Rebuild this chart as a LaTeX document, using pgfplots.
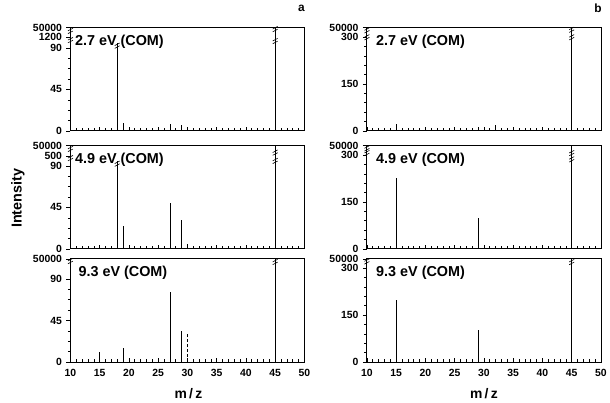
\documentclass[border=0pt]{standalone}
\usepackage{fontspec}
\setmainfont{Liberation Sans}
\usepackage{pgfplots}
\pgfplotsset{compat=1.18}
\newcommand{\brk}[2]{\draw[line width=0.6pt] (axis cs:#1,#2) ++(-2.5pt,-2.2pt) -- ++(5pt,2.6pt) (axis cs:#1,#2) ++(-2.5pt,0.6pt) -- ++(5pt,2.6pt);}
\tikzset{ptext/.style={anchor=west, font=\bfseries\fontsize{14.5}{14.5}\selectfont}}
\pgfplotsset{
  spec/.style={
    scale only axis, width=236pt, height=104pt,
    xmin=10, xmax=50, xtick={10,15,...,50}, minor x tick num=4,
    tick pos=left, xtick align=inside, ytick align=outside,
    major tick length=4pt, minor tick length=2.5pt,
    axis line style={line width=0.8pt},
    tick style={line width=0.6pt, black},
    every tick label/.append style={font=\bfseries\fontsize{10.5}{11}\selectfont},
    xticklabel shift=4pt,
    yticklabel style={xshift=-1pt},
    /pgf/number format/assume math mode=true,
    xticklabels={}, clip=false,
    anchor=south west,
  },
  lcol/.style={spec, ymin=0, ymax=112, ytick={0,45,90}, minor y tick num=3},
  rcol/.style={spec, ymin=0, ymax=330, ytick={0,150,300}, minor y tick num=4,
    extra y ticks={330}, extra y tick labels={50000}},
  bottomrow/.style={xticklabels={10,15,20,25,30,35,40,45,50}},
  specbar/.style={ycomb, black, line width=0.6pt, mark=none},
}
\begin{document}
\begin{tikzpicture}
\path (0pt,0pt) rectangle (610pt,402pt);
% ---------- column a ----------
\begin{axis}[lcol, at={(71pt,270pt)}, extra y ticks={102,112}, extra y tick labels={1200,50000}]
\addplot[specbar] coordinates {(18,95) (19,9) (27,7) (29,6) (45,112)};
\brk{18}{92}\brk{45}{110}\brk{45}{97}\brk{10}{108}\brk{10}{98}
\node[ptext] at (rel axis cs:0.005,0.86) {2.7 eV (COM)};
\end{axis}
\begin{axis}[lcol, at={(71pt,151pt)}, extra y ticks={101,112}, extra y tick labels={500,50000}]
\addplot[specbar] coordinates {(18,95) (19,25) (27,50) (29,31) (30,5) (45,112)};
\brk{18}{92}\brk{45}{104}\brk{45}{95}\brk{10}{108}\brk{10}{98}
\node[ptext] at (rel axis cs:0.005,0.86) {4.9 eV (COM)};
\end{axis}
\begin{axis}[lcol, bottomrow, at={(71pt,37pt)}, extra y ticks={112}, extra y tick labels={50000}]
\addplot[specbar] coordinates {(15,11) (19,15) (27,76) (29,34) (45,112)};
\addplot[specbar, densely dashed] coordinates {(30,31)};
\brk{45}{108}\brk{10}{109}
\node[ptext] at (rel axis cs:0.02,0.86) {9.3 eV (COM)};
\end{axis}
% ---------- column b ----------
\begin{axis}[rcol, at={(370pt,270pt)}]
\addplot[specbar] coordinates {(15,22) (29,11) (32,20) (45,330)};
\brk{45}{322}\brk{45}{298}\brk{10}{320}\brk{10}{298}
\node[ptext] at (rel axis cs:0.025,0.86) {2.7 eV (COM)};
\end{axis}
\begin{axis}[rcol, at={(370pt,151pt)}]
\addplot[specbar] coordinates {(15,228) (29,100) (32,8) (45,330)};
\brk{45}{305}\brk{45}{285}\brk{10}{320}\brk{10}{305}
\node[ptext] at (rel axis cs:0.025,0.86) {4.9 eV (COM)};
\end{axis}
\begin{axis}[rcol, bottomrow, at={(370pt,37pt)}]
\addplot[specbar] coordinates {(15,197) (29,103) (45,330)};
\brk{45}{318}\brk{10}{320}
\node[ptext] at (rel axis cs:0.025,0.86) {9.3 eV (COM)};
\end{axis}
% ---------- titles ----------
\node[rotate=90, font=\bfseries\fontsize{14.5}{14.5}\selectfont] at (18pt,202pt) {Intensity};
\node[font=\bfseries\fontsize{14}{14}\selectfont] at (190pt,5pt) {m\,/\,z};
\node[font=\bfseries\fontsize{14}{14}\selectfont] at (488pt,5pt) {m\,/\,z};
\node[font=\bfseries\fontsize{12}{12}\selectfont] at (304pt,394pt) {a};
\node[font=\bfseries\fontsize{12}{12}\selectfont] at (603pt,394pt) {b};
\end{tikzpicture}
\end{document}
